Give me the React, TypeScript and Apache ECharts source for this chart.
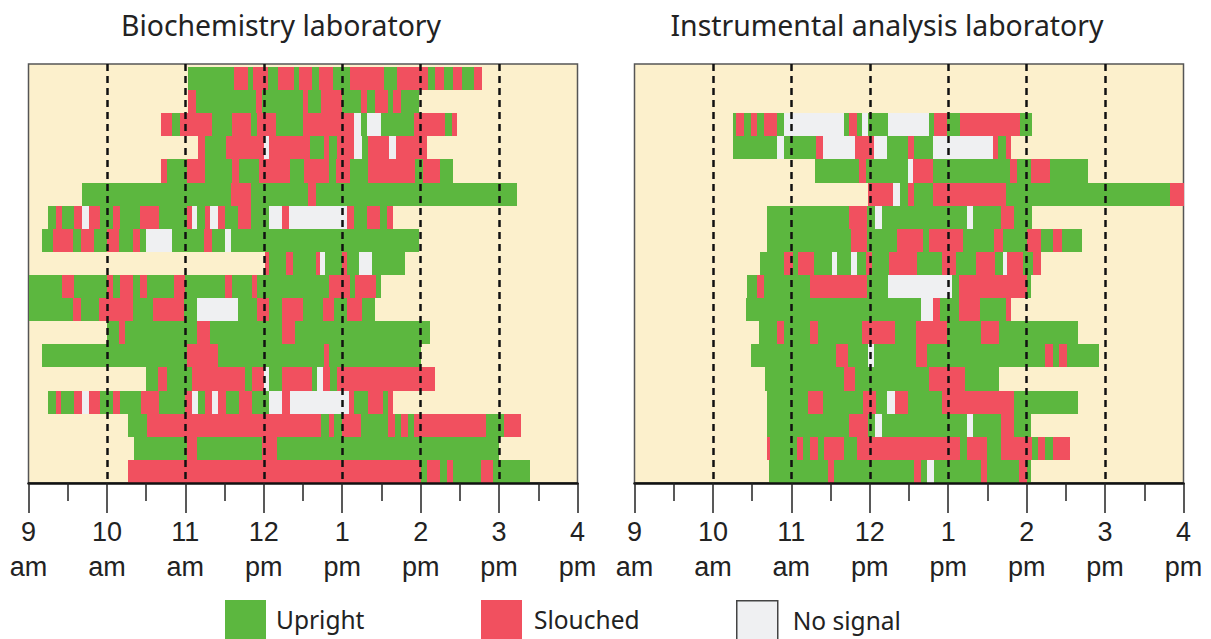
import React, { useEffect, useRef } from "react";
import * as echarts from "echarts";

// Minutes after 9 am. Each row: start, state, boundary, state, boundary, ... end
const U = "Upright";
const S = "Slouched";
const N = "No signal";

const panelTitles = ["Biochemistry laboratory", "Instrumental analysis laboratory"];
const tickLabels = ["9\nam", "10\nam", "11\nam", "12\npm", "1\npm", "2\npm", "3\npm", "4\npm"];
const stateNames = [U, S, N];
const stateColors = ["#5CB73F", "#F1505F", "#EFF0F2"];

const biochemistryRows: (number | string)[][] = [
  [122,U,157,S,168,U,172,S,183,U,191,S,203,U,207,S,217,U,222,S,233,U,246,S,272,U,282,S,306,U,311,S,318,U,325,S,332,U,341,S,347],
  [122,S,128,U,174,S,179,U,210,S,214,U,224,S,240,U,254,S,259,U,265,S,275,U,279,S,285,U,299],
  [101,S,110,U,116,S,140,U,156,S,170,U,175,S,189,U,210,S,249,N,254,U,259,N,270,U,295,S,319,U,324,S,328],
  [130,S,135,U,151,S,180,N,184,S,215,U,226,S,230,U,236,S,249,N,255,U,260,S,276,N,281,S,305],
  [101,S,106,U,121,S,135,U,156,S,161,U,176,S,200,U,211,S,230,U,235,S,246,U,260,S,296,U,302,S,315,U,325],
  [41,U,155,S,170,U,214,S,220,U,374],
  [15,U,21,S,26,U,35,S,41,N,46,S,55,U,65,S,70,U,85,S,100,U,121,S,125,N,129,U,135,S,139,N,145,S,150,U,160,S,170,U,184,N,194,S,199,N,244,S,249,U,259,S,269,U,274,S,279],
  [10,U,19,S,34,U,40,S,50,U,60,S,69,U,80,S,85,U,90,N,110,U,134,S,140,U,150,N,155,U,299],
  [181,S,184,U,197,S,202,U,220,S,223,N,227,U,240,S,244,U,253,N,263,U,288],
  [0,U,26,S,35,U,60,S,65,U,70,S,80,U,85,S,91,U,111,S,120,U,150,S,156,U,171,S,175,U,230,S,246,U,250,S,266,U,270],
  [0,U,34,S,40,U,54,S,80,U,95,S,119,U,129,N,160,U,175,S,184,U,194,S,210,U,225,S,234,U,244,S,255,U,265],
  [60,U,69,S,74,U,129,S,139,U,194,S,204,U,307],
  [10,U,121,S,145,U,226,S,230,U,300],
  [90,U,99,S,106,U,125,S,166,U,171,S,180,N,184,U,194,S,217,U,221,N,225,S,231,U,236,S,311],
  [15,U,21,S,25,U,35,S,41,N,46,S,55,U,65,S,70,U,86,S,100,U,120,S,125,N,130,U,135,S,140,N,145,S,151,U,161,S,171,U,184,N,194,S,200,N,245,S,249,U,260,S,271,U,275,S,279],
  [76,U,91,S,224,U,230,S,234,U,240,S,254,U,275,S,280,U,285,S,290,U,295,S,350,U,364,S,377],
  [81,U,121,S,129,U,179,S,190,U,360],
  [76,S,300,U,305,S,315,U,320,S,325,U,346,S,355,U,384],
];

const instrumentalRows: (number | string)[][] = [
  [],
  [],
  [75,U,78,S,84,U,89,S,94,U,99,S,109,U,114,N,160,U,164,S,170,U,174,N,179,U,194,N,225,U,229,S,239,U,249,S,295,U,304],
  [75,U,109,N,114,U,139,S,144,N,169,S,183,N,193,U,209,S,214,U,228,N,274,S,278,U,284,S,288],
  [138,U,172,S,177,U,209,N,213,S,228,U,287,S,293,U,303,S,318,U,347],
  [179,S,198,N,203,U,209,S,214,U,228,S,284,U,410,S,420],
  [101,U,164,S,178,U,184,N,189,U,254,N,259,U,280,S,290,U,304],
  [101,U,166,S,178,U,201,S,221,U,225,S,251,U,275,S,282,U,300,S,311,U,320,S,327,U,342],
  [96,U,114,S,121,U,125,S,137,U,151,N,155,U,166,N,170,U,177,S,182,U,195,S,216,U,235,S,246,U,261,S,276,U,282,N,285,S,297,U,305,S,311],
  [86,U,94,S,99,U,134,S,178,U,194,N,243,U,248,S,300,U,303],
  [85,U,219,N,228,S,234,U,248,S,264,U,284,S,288],
  [95,U,109,S,114,U,134,S,140,U,174,S,199,U,215,S,239,U,265,S,279,U,339],
  [89,U,154,S,163,U,179,N,183,U,215,S,224,U,314,S,320,U,325,S,331,U,355],
  [100,U,160,S,169,U,225,S,253,U,279],
  [101,U,133,S,144,U,175,S,185,U,193,N,199,S,209,U,235,S,290,U,339],
  [101,U,164,S,179,U,184,N,189,U,254,N,259,U,280,S,290,U,303],
  [101,S,104,U,124,S,129,U,134,S,140,U,145,S,160,U,170,S,249,U,254,S,270,U,280,S,304,U,309,S,314,U,320,S,333],
  [103,U,148,S,153,U,214,S,219,U,224,N,229,U,265,S,270,U,294,S,300,U,303],
];

const panels = [biochemistryRows, instrumentalRows];

function segmentsFor(rows: (number | string)[][], state: string) {
  const out: number[][] = [];
  rows.forEach((row, r) => {
    for (let i = 1; i < row.length; i += 2) {
      if (row[i] === state) out.push([r, row[i - 1] as number, row[i + 1] as number]);
    }
  });
  return out;
}

const renderItem = (params: any, api: any) => {
  const a = api.coord([api.value(1), api.value(0)]);
  const b = api.coord([api.value(2), api.value(0) + 1]);
  const x0 = Math.round(a[0]);
  const x1 = Math.round(b[0]);
  const y0 = Math.round(a[1]);
  const y1 = Math.round(b[1]);
  return {
    type: "rect",
    shape: { x: x0, y: y0, width: x1 - x0, height: y1 - y0 },
    style: { fill: stateColors[stateNames.indexOf(params.seriesName)], stroke: null },
  };
};

const textFont = "Noto Sans";

export default function App() {
  const ref = useRef<HTMLDivElement>(null);
  useEffect(() => {
    if (!ref.current) return;
    const chart = echarts.init(ref.current, undefined, { renderer: "svg" });
    const lefts = [28.5, 634.5];
    const series: any[] = [];
    panels.forEach((rows, p) => {
      stateNames.forEach((name) => {
        series.push({
          type: "custom",
          name,
          xAxisIndex: p,
          yAxisIndex: p,
          z: 2,
          renderItem,
          encode: { x: [1, 2], y: 0 },
          data: segmentsFor(rows, name),
          itemStyle: { color: stateColors[stateNames.indexOf(name)] },
        });
      });
    });
    const legendLefts = [225, 481, 736];
    chart.setOption({
      animation: false,
      backgroundColor: "#fff",
      title: panelTitles.map((text, p) => ({
        text,
        left: [276, 882][p],
        top: 6,
        textAlign: "center",
        textStyle: { fontFamily: textFont, fontSize: 28.4, fontWeight: "normal", color: "#222" },
      })),
      legend: stateNames.map((name, i) => ({
        left: legendLefts[i],
        top: 600,
        orient: "horizontal",
        selectedMode: false,
        itemWidth: 41,
        itemHeight: 39,
        padding: 0,
        textStyle: {
          fontFamily: textFont,
          fontSize: 24.5,
          color: "#222",
          padding: [[0, 0, 12, 5], [0, 0, 4, 7], [0, 0, 4, 10]][i],
        },
        data: [
          {
            name,
            icon: "rect",
            itemStyle:
              i === 2
                ? { color: stateColors[2], borderColor: "#444", borderWidth: 1.5 }
                : { color: stateColors[i], borderWidth: 0 },
          },
        ],
      })),
      grid: lefts.map((left) => ({
        show: true,
        left,
        top: 64,
        width: 549,
        height: 419,
        backgroundColor: "#FCF0CC",
        borderColor: "#555",
        borderWidth: 1.5,
      })),
      xAxis: lefts.map((_, p) => ({
        type: "value",
        gridIndex: p,
        min: 0,
        max: 420,
        interval: 60,
        z: 5,
        axisLine: { show: true, onZero: false, lineStyle: { color: "#111", width: 2.5 } },
        axisTick: { show: true, length: 30, lineStyle: { color: "#222", width: 1.5 } },
        minorTick: { show: true, splitNumber: 2, length: 18, lineStyle: { color: "#222", width: 1.5 } },
        splitLine: {
          show: true,
          showMinLine: false,
          showMaxLine: false,
          lineStyle: { color: "#111", width: 2.5, type: [7, 5] },
        },
        axisLabel: {
          margin: 31,
          fontFamily: "Liberation Sans",
          fontSize: 27,
          lineHeight: 35,
          color: "#222",
          formatter: (value: number) => tickLabels[value / 60],
        },
      })),
      yAxis: lefts.map((_, p) => ({
        type: "value",
        gridIndex: p,
        show: false,
        inverse: true,
        min: -0.13,
        max: 18,
      })),
      series,
    });
    return () => chart.dispose();
  }, []);
  return <div ref={ref} style={{ position: "fixed", left: 0, top: 0, width: 1211, height: 639 }} />;
}
